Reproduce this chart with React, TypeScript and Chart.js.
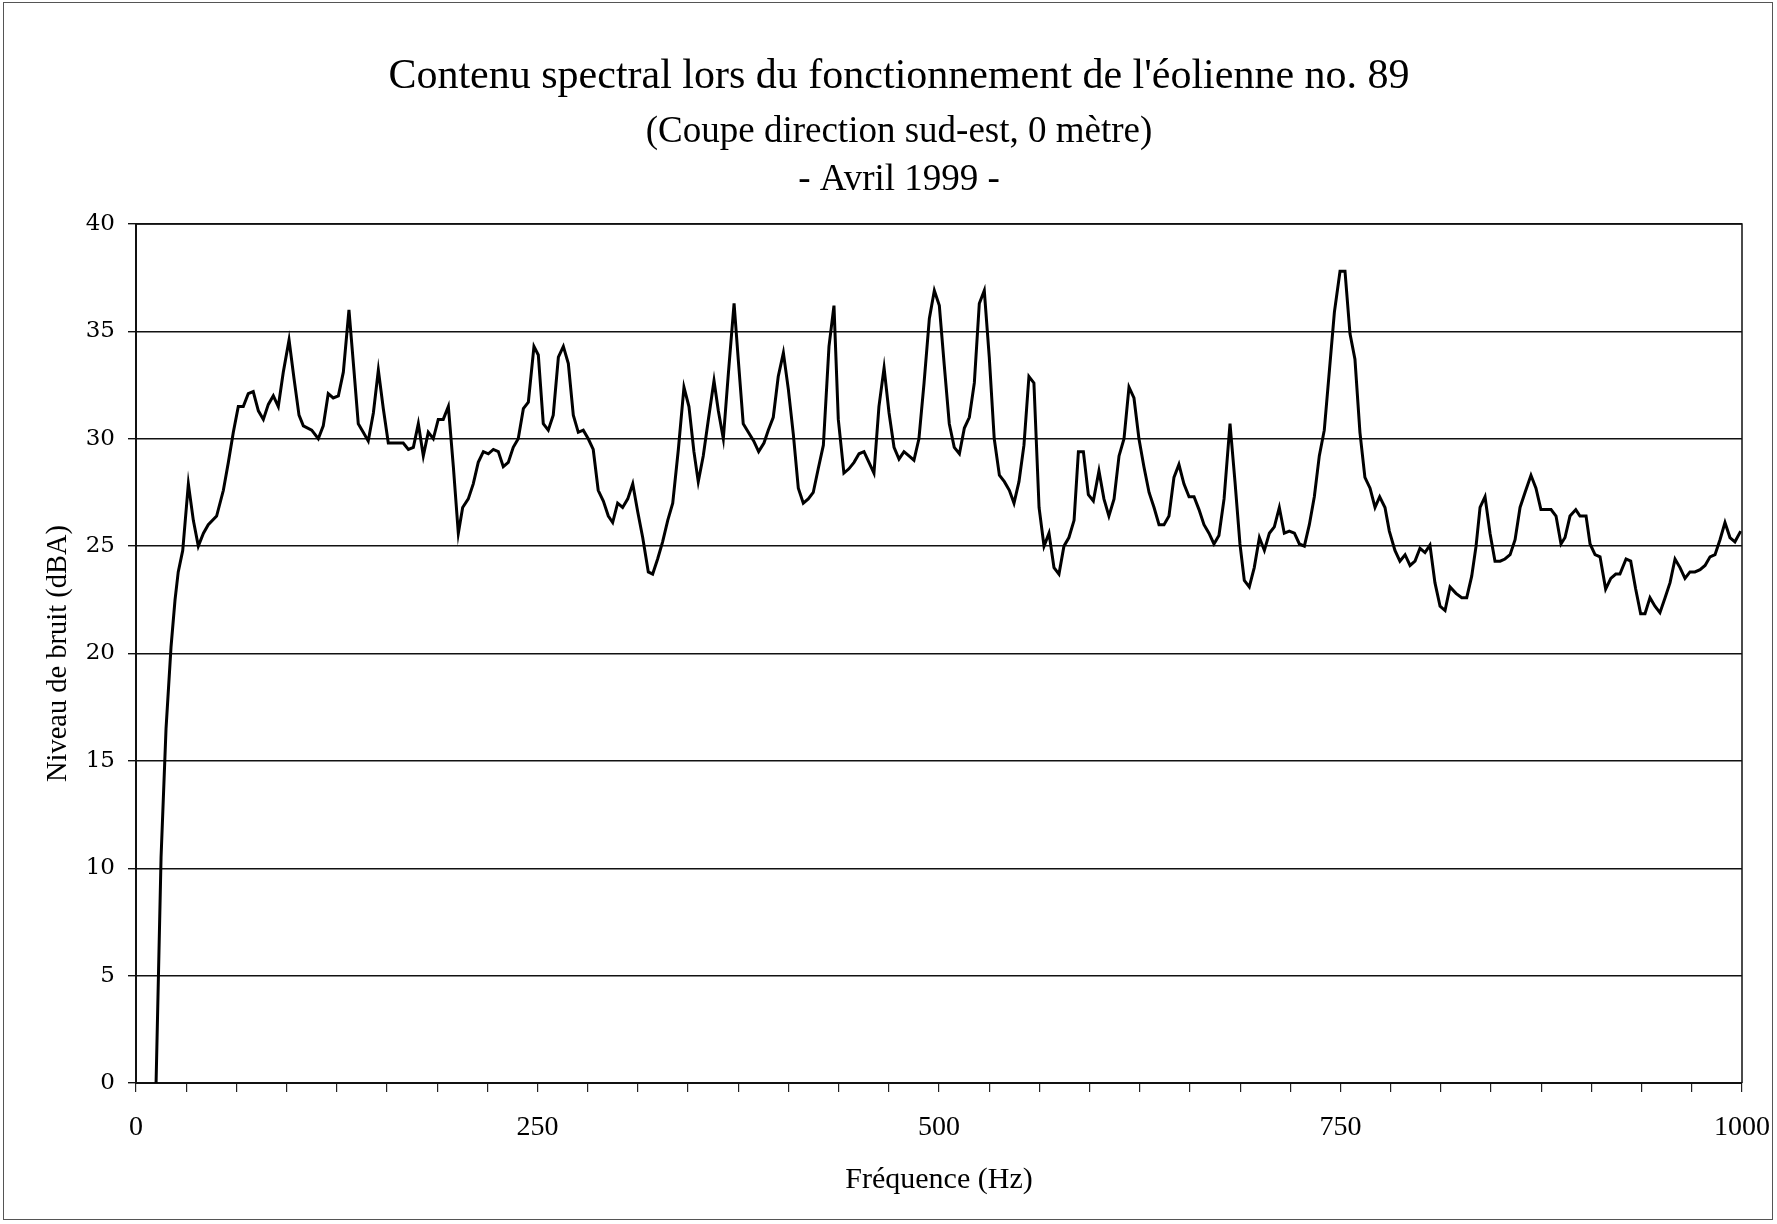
import React, { useEffect, useRef } from 'react';
import { Chart, registerables } from 'chart.js';

Chart.register(...registerables);

// ---- Data ----
const titleLine1 = "Contenu spectral lors du fonctionnement de l'éolienne no. 89";
const titleLine2 = '(Coupe direction sud-est, 0 mètre)';
const titleLine3 = '- Avril 1999 -';
const xAxisTitle = 'Fréquence (Hz)';
const yAxisTitle = 'Niveau de bruit (dBA)';

const xMin = 0;
const xMax = 1000;
const xTickStep = 31.25;
const xLabelStep = 250;
const yMin = 0;
const yMax = 40;
const yStep = 5;

const frequencies = [
  12.5, 15.6, 18.7, 21.8, 24.3, 26.3, 29.1, 32.6, 35.7, 38.8, 42.0, 45.0, 50.2, 54.4, 57.5, 60.6, 63.7, 66.8, 69.9, 73.0,
  76.2, 79.3, 82.4, 85.5, 88.6, 91.7, 95.3, 98.4, 101.5, 104.2, 109.4, 113.5, 116.6, 119.7, 122.8, 126.0, 129.1, 132.6, 135.7, 138.4,
  141.5, 144.6, 147.8, 150.9, 154.0, 157.1, 161.3, 166.4, 169.6, 172.7, 175.8, 178.9, 182.0, 185.1, 188.2, 191.3, 194.5, 197.6, 200.7, 203.4,
  206.9, 210.0, 213.1, 216.3, 219.4, 222.5, 225.6, 228.7, 231.8, 234.9, 238.0, 241.2, 244.3, 247.8, 250.5, 253.6, 256.7, 259.8, 263.0, 266.1,
  269.2, 272.3, 275.4, 278.5, 281.6, 284.7, 287.8, 291.0, 294.1, 296.8, 299.9, 303.0, 306.2, 309.3, 312.4, 315.5, 319.0, 321.7, 324.8, 327.9,
  331.1, 334.2, 337.7, 341.2, 344.3, 347.4, 350.1, 353.2, 356.4, 359.9, 362.6, 365.7, 368.8, 372.4, 375.0, 378.1, 381.3, 384.6, 387.7, 391.0,
  393.7, 396.8, 399.9, 403.1, 406.2, 409.3, 412.4, 415.5, 418.6, 421.7, 424.8, 428.0, 431.5, 434.6, 437.3, 440.8, 443.9, 447.1, 450.2, 453.3,
  456.4, 459.5, 462.6, 465.8, 468.9, 472.0, 475.1, 478.2, 481.3, 484.4, 487.5, 490.7, 494.0, 497.1, 500.2, 503.3, 506.4, 509.5, 512.7, 515.8,
  518.9, 522.0, 525.1, 528.2, 531.3, 534.4, 537.6, 540.7, 543.8, 546.7, 549.8, 552.9, 556.0, 559.1, 562.3, 565.4, 568.5, 571.6, 574.7, 577.8,
  580.9, 584.1, 586.8, 589.9, 593.0, 596.1, 599.6, 602.7, 605.8, 609.0, 612.1, 615.2, 618.3, 621.4, 624.5, 627.6, 630.8, 633.9, 637.0, 640.1,
  643.2, 646.3, 649.4, 652.5, 655.7, 658.8, 661.9, 665.0, 668.1, 671.2, 674.3, 677.5, 681.2, 684.3, 687.4, 690.1, 693.2, 696.3, 699.5, 702.6,
  705.7, 708.8, 711.9, 715.0, 718.1, 721.3, 724.4, 727.5, 730.6, 733.7, 736.8, 739.9, 743.0, 746.2, 749.7, 752.8, 755.9, 759.0, 762.1, 765.2,
  768.4, 771.5, 774.4, 777.7, 780.4, 783.9, 787.0, 790.2, 793.3, 796.4, 799.5, 802.6, 805.7, 808.8, 812.0, 815.1, 818.2, 821.9, 825.5, 828.6,
  831.7, 834.4, 836.9, 840.0, 843.1, 846.2, 849.4, 852.4, 855.6, 858.7, 861.8, 864.9, 868.6, 871.7, 874.8, 877.9, 881.1, 884.2, 887.3, 889.8,
  892.9, 896.5, 899.1, 902.9, 905.4, 908.5, 911.6, 915.1, 918.3, 921.4, 924.0, 927.8, 930.7, 933.8, 936.9, 939.6, 942.7, 945.8, 948.9, 952.1,
  955.2, 958.3, 961.4, 964.5, 967.6, 970.7, 973.9, 977.0, 980.1, 983.2, 986.3, 989.4, 992.5, 995.6, 999.2,
];

const levels = [
  0, 10.5, 16.5, 20.3, 22.5, 23.8, 24.8, 27.9, 26.2, 25.0, 25.6, 26.0, 26.4, 27.6, 28.9, 30.3, 31.5, 31.5, 32.1, 32.2,
  31.3, 30.9, 31.6, 32.0, 31.5, 33.1, 34.6, 32.8, 31.1, 30.6, 30.4, 30.0, 30.6, 32.1, 31.9, 32.0, 33.1, 36.0, 33.2, 30.7,
  30.3, 29.9, 31.2, 33.2, 31.4, 29.8, 29.8, 29.8, 29.5, 29.6, 30.7, 29.2, 30.3, 30.0, 30.9, 30.9, 31.5, 28.7, 25.6, 26.8,
  27.2, 27.9, 28.9, 29.4, 29.3, 29.5, 29.4, 28.7, 28.9, 29.6, 30.0, 31.4, 31.7, 34.3, 33.9, 30.7, 30.4, 31.1, 33.8, 34.3,
  33.5, 31.1, 30.3, 30.4, 30.0, 29.5, 27.6, 27.1, 26.4, 26.1, 27.0, 26.8, 27.2, 27.9, 26.6, 25.4, 23.8, 23.7, 24.4, 25.2,
  26.2, 27.0, 29.5, 32.4, 31.5, 29.4, 28.0, 29.2, 30.9, 32.7, 31.3, 30.0, 33.0, 36.3, 33.7, 30.7, 30.3, 29.9, 29.4, 29.8,
  30.4, 31.0, 32.9, 34.0, 32.3, 30.2, 27.7, 27.0, 27.2, 27.5, 28.6, 29.7, 34.3, 36.2, 30.9, 28.4, 28.6, 28.9, 29.3, 29.4,
  28.9, 28.4, 31.5, 33.3, 31.2, 29.6, 29.05, 29.4, 29.2, 29.0, 30.0, 32.6, 35.6, 36.9, 36.2, 33.4, 30.7, 29.6, 29.3, 30.5,
  31.0, 32.6, 36.3, 36.9, 33.8, 30.0, 28.3, 28.0, 27.6, 27.0, 28.0, 29.7, 32.9, 32.6, 26.8, 25.0, 25.6, 24.0, 23.7, 25.0,
  25.4, 26.2, 29.4, 29.4, 27.4, 27.1, 28.5, 27.2, 26.4, 27.2, 29.2, 30.0, 32.4, 31.9, 30.0, 28.7, 27.5, 26.8, 26.0, 26.0,
  26.4, 28.2, 28.8, 27.9, 27.3, 27.3, 26.7, 26.0, 25.6, 25.1, 25.5, 27.2, 30.7, 28.0, 25.1, 23.4, 23.1, 24.0, 25.4, 24.8,
  25.6, 25.9, 26.8, 25.6, 25.7, 25.6, 25.1, 25.0, 26.0, 27.3, 29.2, 30.4, 33.1, 35.9, 37.8, 37.8, 34.9, 33.7, 30.3, 28.2,
  27.7, 26.8, 27.3, 26.8, 25.7, 24.8, 24.3, 24.6, 24.1, 24.3, 24.9, 24.7, 25.05, 23.3, 22.2, 22.0, 23.1, 22.8, 22.6, 22.6,
  23.6, 25.0, 26.8, 27.3, 25.6, 24.3, 24.3, 24.4, 24.6, 25.3, 26.8, 27.5, 28.3, 27.7, 26.7, 26.7, 26.7, 26.4, 25.1, 25.4,
  26.4, 26.7, 26.4, 26.4, 25.1, 24.6, 24.5, 23.0, 23.5, 23.7, 23.7, 24.4, 24.3, 23.0, 21.85, 21.85, 22.6, 22.2, 21.9, 22.6,
  23.3, 24.4, 24.0, 23.5, 23.8, 23.8, 23.9, 24.1, 24.5, 24.6, 25.3, 26.1, 25.4, 25.2, 25.7,
];

const W = 1777;
const H = 1224;
const SERIF = "'Liberation Serif', 'Times New Roman', serif";
const WIDE_SERIF = "'DejaVu Serif', serif";

export default function App() {
  const ref = useRef<HTMLCanvasElement>(null);

  useEffect(() => {
    document.body.style.margin = '0';
    document.body.style.overflow = 'hidden';
    const canvas = ref.current;
    if (!canvas) return;

    const pagePlugin = {
      id: 'pageDecor',
      beforeDraw(chart: any) {
        const ctx = chart.ctx;
        ctx.save();
        ctx.fillStyle = '#ffffff';
        ctx.fillRect(0, 0, chart.width, chart.height);
        ctx.restore();
      },
      afterDraw(chart: any) {
        const ctx = chart.ctx;
        const a = chart.chartArea;
        ctx.save();
        // plot area frame (top and right)
        ctx.strokeStyle = '#111';
        ctx.lineWidth = 1.5;
        ctx.beginPath();
        ctx.moveTo(a.left, a.top);
        ctx.lineTo(a.right, a.top);
        ctx.lineTo(a.right, a.bottom);
        ctx.stroke();
        // outer page frame
        ctx.strokeStyle = '#555';
        ctx.lineWidth = 1;
        ctx.strokeRect(3.5, 2.5, W - 8, H - 7);
        // titles
        ctx.fillStyle = '#000';
        ctx.textAlign = 'center';
        ctx.textBaseline = 'middle';
        const cx = 899;
        ctx.font = `42px ${SERIF}`;
        ctx.fillText(titleLine1, cx, 77);
        ctx.font = `37px ${SERIF}`;
        ctx.fillText(titleLine2, cx, 132);
        ctx.fillText(titleLine3, cx, 180);
        ctx.restore();
      },
    };

    const chart = new Chart(canvas, {
      type: 'line',
      data: {
        datasets: [
          {
            data: frequencies.map((f, i) => ({ x: f, y: levels[i] })),
            borderColor: '#000',
            borderWidth: 3,
            pointRadius: 0,
            tension: 0,
            fill: false,
          },
        ],
      },
      options: {
        animation: false,
        responsive: false,
        devicePixelRatio: 1,
        layout: { padding: { top: 224, right: 35, left: 0, bottom: 0 } },
        plugins: {
          legend: { display: false },
          tooltip: { enabled: false },
        },
        scales: {
          x: {
            type: 'linear',
            min: xMin,
            max: xMax,
            afterFit(scale: any) {
              scale.height = 141;
              scale.paddingLeft = 0;
              scale.paddingRight = 0;
            },
            afterBuildTicks(scale: any) {
              const t = [];
              for (let v = xMin; v <= xMax + 1e-9; v += xTickStep) t.push({ value: v });
              scale.ticks = t;
            },
            ticks: {
              autoSkip: false,
              maxRotation: 0,
              minRotation: 0,
              padding: 19,
              color: '#000',
              font: { family: SERIF, size: 28 },
              callback: (v: any) => (Math.abs(v % xLabelStep) < 1e-6 ? String(v) : ''),
            },
            grid: {
              drawOnChartArea: false,
              drawTicks: true,
              tickLength: 9,
              color: '#222',
              lineWidth: 1.2,
            },
            border: { display: true, color: '#111', width: 2 },
            title: {
              display: true,
              text: xAxisTitle,
              color: '#000',
              font: { family: SERIF, size: 30 },
              padding: { top: 0, bottom: 26 },
            },
          },
          y: {
            min: yMin,
            max: yMax,
            afterFit(scale: any) {
              scale.width = 136;
              scale.paddingTop = 0;
              scale.paddingBottom = 0;
            },
            ticks: {
              stepSize: yStep,
              padding: 13,
              color: '#000',
              font: { family: WIDE_SERIF, size: 23 },
            },
            grid: {
              color: '#111',
              lineWidth: 1.4,
              tickLength: 8,
            },
            border: { display: true, color: '#111', width: 2 },
            title: {
              display: true,
              text: yAxisTitle,
              color: '#000',
              font: { family: SERIF, size: 28.5 },
              padding: { top: 41, bottom: 0 },
            },
          },
        },
      },
      plugins: [pagePlugin],
    } as any);

    return () => chart.destroy();
  }, []);

  return <canvas ref={ref} width={W} height={H} style={{ display: 'block', width: W, height: H }} />;
}
